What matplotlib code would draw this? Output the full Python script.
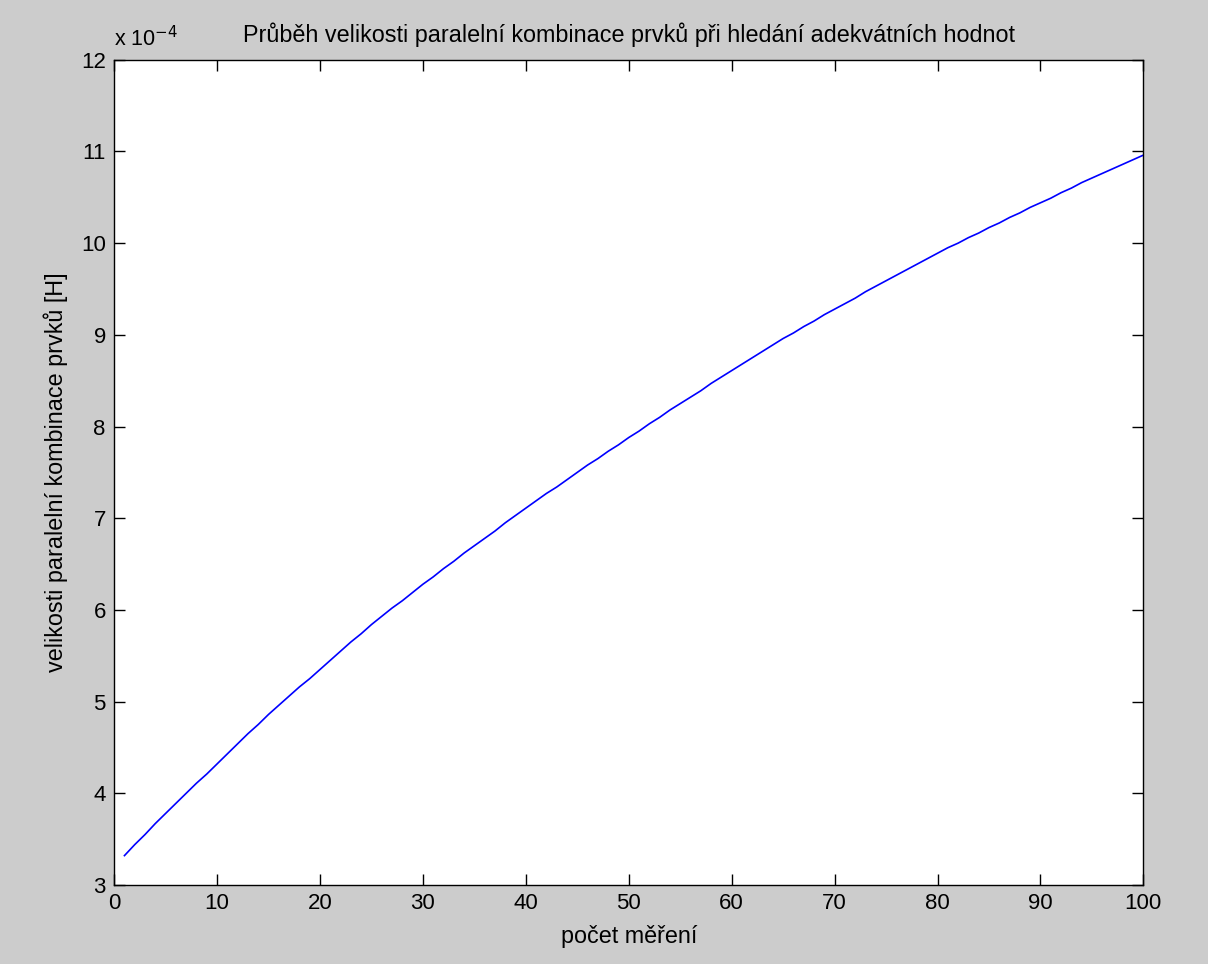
import numpy as np
import matplotlib
matplotlib.use("Agg")
import matplotlib.pyplot as plt

plt.rcParams['font.family'] = ['Liberation Sans', 'DejaVu Sans']

# measurement index
mereni = np.arange(1, 101)

# parallel combination value, in units of 1e-4 H
velikost_e4 = [
    3.32, 3.44, 3.55, 3.67, 3.78, 3.89, 4.00, 4.11, 4.21, 4.32,
    4.43, 4.54, 4.65, 4.75, 4.86, 4.96, 5.06, 5.16, 5.25, 5.35,
    5.45, 5.55, 5.65, 5.74, 5.84, 5.93, 6.02, 6.10, 6.19, 6.28,
    6.36, 6.45, 6.53, 6.62, 6.70, 6.78, 6.86, 6.95, 7.03, 7.11,
    7.19, 7.27, 7.34, 7.42, 7.50, 7.58, 7.65, 7.73, 7.80, 7.88,
    7.95, 8.03, 8.10, 8.18, 8.25, 8.32, 8.39, 8.47, 8.54, 8.61,
    8.68, 8.75, 8.82, 8.89, 8.96, 9.02, 9.09, 9.15, 9.22, 9.28,
    9.34, 9.40, 9.47, 9.53, 9.59, 9.65, 9.71, 9.77, 9.83, 9.89,
    9.95, 10.00, 10.06, 10.11, 10.17, 10.22, 10.28, 10.33, 10.39, 10.44,
    10.49, 10.55, 10.60, 10.66, 10.71, 10.76, 10.81, 10.86, 10.91, 10.96,
]

x_ticks = np.arange(0, 101, 10)
y_ticks = np.arange(3, 13, 1)

fig = plt.figure(figsize=(12.08, 9.64), dpi=100, facecolor='#cccccc')
ax = fig.add_axes([0.0945, 0.082, 0.852, 0.856])
ax.set_facecolor('white')

ax.plot(mereni, velikost_e4, color='#0000ff', linewidth=1.2)

ax.set_xlim(0, 100)
ax.set_ylim(3, 12)
ax.set_xticks(x_ticks)
ax.set_yticks(y_ticks)
ax.tick_params(direction='in', length=8, width=1.0, top=True, right=True,
               labelsize=16, pad=6, colors='black')
for s in ax.spines.values():
    s.set_linewidth(1.0)

ax.set_title('Průběh velikosti paralelní kombinace prvků při hledání adekvátních hodnot',
             fontsize=16.8, pad=13)
ax.set_xlabel('počet měření', fontsize=16.8, labelpad=8)
ax.set_ylabel('velikosti paralelní kombinace prvků [H]', fontsize=16.8, labelpad=9)

# exponent marker above the y axis
ax.text(0.0, 1.01, r'x 10$^{-4}$', transform=ax.transAxes,
        fontsize=15.5, ha='left', va='bottom')

fig.savefig('out.png', dpi=100, facecolor=fig.get_facecolor())
